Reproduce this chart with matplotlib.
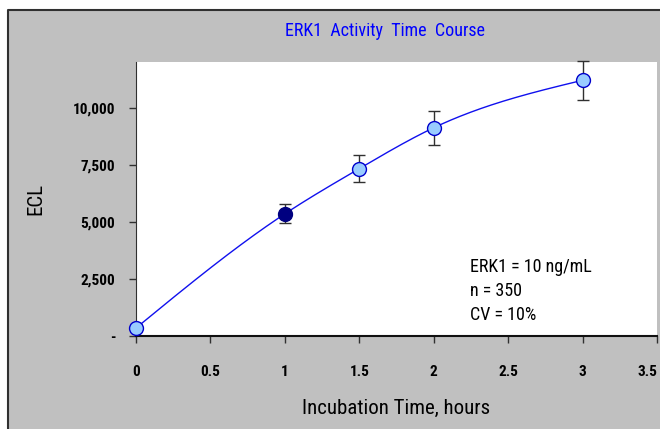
import matplotlib.pyplot as plt
import numpy as np
from matplotlib.patches import Rectangle
from matplotlib import font_manager

# data
hours = [0, 1, 1.5, 2, 3]
ecl = [350, 5350, 7330, 9120, 11200]
ecl_err = [0, 420, 580, 740, 850]
highlight = 1  # index of the dark point

xticks = [0, 0.5, 1, 1.5, 2, 2.5, 3, 3.5]
xtick_labels = ['0', '0.5', '1', '1.5', '2', '2.5', '3', '3.5']
yticks = [0, 2500, 5000, 7500, 10000]
ytick_labels = ['-', '2,500', '5,000', '7,500', '10,000']
notes = ['ERK1 = 10 ng/mL', 'n = 350', 'CV = 10%']

names = set(f.name for f in font_manager.fontManager.ttflist)
fams = [f for f in ['Liberation Sans Narrow', 'DejaVu Sans Condensed', 'Roboto Condensed']
        if f in names] + ['DejaVu Sans']
plt.rcParams['font.family'] = fams
plt.rcParams['font.stretch'] = 'condensed'


def smooth(x, y, n=300):
    # natural cubic spline through the points
    x = np.asarray(x, float)
    y = np.asarray(y, float)
    k = len(x)
    h = np.diff(x)
    A = np.zeros((k, k))
    b = np.zeros(k)
    A[0, 0] = A[-1, -1] = 1
    for i in range(1, k - 1):
        A[i, i-1] = h[i-1]
        A[i, i] = 2 * (h[i-1] + h[i])
        A[i, i+1] = h[i]
        b[i] = 6 * ((y[i+1] - y[i]) / h[i] - (y[i] - y[i-1]) / h[i-1])
    m = np.linalg.solve(A, b)
    xs = np.linspace(x[0], x[-1], n)
    idx = np.clip(np.searchsorted(x, xs) - 1, 0, k - 2)
    x0, x1 = x[idx], x[idx+1]
    hh = x1 - x0
    t0, t1 = x1 - xs, xs - x0
    ys = (m[idx] * t0**3 + m[idx+1] * t1**3) / (6 * hh) \
        + (y[idx] / hh - m[idx] * hh / 6) * t0 + (y[idx+1] / hh - m[idx+1] * hh / 6) * t1
    return xs, ys


W, H = 660, 429
fig = plt.figure(figsize=(W/100, H/100), dpi=100)
fig.patch.set_facecolor('#c0c0c0')
# white strip on top and left, dark frame line
fig.add_artist(Rectangle((0, 1 - 10/H), 1, 10/H, transform=fig.transFigure,
                         facecolor='white', edgecolor='none', zorder=-5))
fig.add_artist(Rectangle((0, 0), 8/W, 1, transform=fig.transFigure,
                         facecolor='white', edgecolor='none', zorder=-5))
fig.add_artist(plt.Line2D([8/W, 8/W, 1], [0, 1 - 10/H, 1 - 10/H], transform=fig.transFigure,
                          color='#303030', linewidth=1.5, zorder=-4))

ax = fig.add_axes([136/W, 1 - 336/H, 521/W, 274/H])
ax.set_facecolor('white')

sx, sy = smooth(hours, ecl)
ax.plot(sx, sy, color='#1010ee', linewidth=1, zorder=2)

eb = ax.errorbar(hours, ecl, yerr=ecl_err, fmt='none', ecolor='#303030', elinewidth=1,
                 capsize=4, capthick=1, zorder=3)
for art in eb.lines[1] + eb.lines[2]:
    art.set_clip_on(False)
for i, (x, y) in enumerate(zip(hours, ecl)):
    fc = '#000080' if i == highlight else '#99ccff'
    ec = '#000080' if i == highlight else '#0000cc'
    ax.plot(x, y, 'o', markersize=10, markerfacecolor=fc, markeredgecolor=ec,
            markeredgewidth=1, zorder=4, clip_on=False)

ax.set_xlim(0, 3.5)
ax.set_ylim(0, 12000)
ax.set_xticks(xticks)
ax.set_xticklabels(xtick_labels)
ax.set_yticks(yticks)
ax.set_yticklabels(ytick_labels)
ax.tick_params(axis='both', direction='out', length=5, width=1, color='#303030',
               labelsize=11, labelcolor='black')
ax.tick_params(axis='x', pad=16)
ax.tick_params(axis='y', pad=10)
for lab in ax.get_xticklabels() + ax.get_yticklabels():
    lab.set_fontweight('bold')
ax.get_xticklabels()[-1].set_horizontalalignment('right')

ax.spines['top'].set_visible(False)
ax.spines['right'].set_visible(False)
ax.spines['left'].set_color('#303030')
ax.spines['bottom'].set_color('#101010')
ax.spines['bottom'].set_linewidth(1.5)

ax.set_xlabel('Incubation Time, hours', fontsize=15, labelpad=14)
ax.set_ylabel('ECL', fontsize=15, labelpad=20)

fig.text(385/W, 1 - 31/H, 'ERK1  Activity  Time  Course', color='#0000ff',
         fontsize=13, ha='center', va='center')

for k, line in enumerate(notes):
    ax.text(470/W, 1 - (267 + 24*k)/H, line, transform=fig.transFigure,
            fontsize=13, ha='left', va='center')

fig.savefig('out.png', dpi=100)
